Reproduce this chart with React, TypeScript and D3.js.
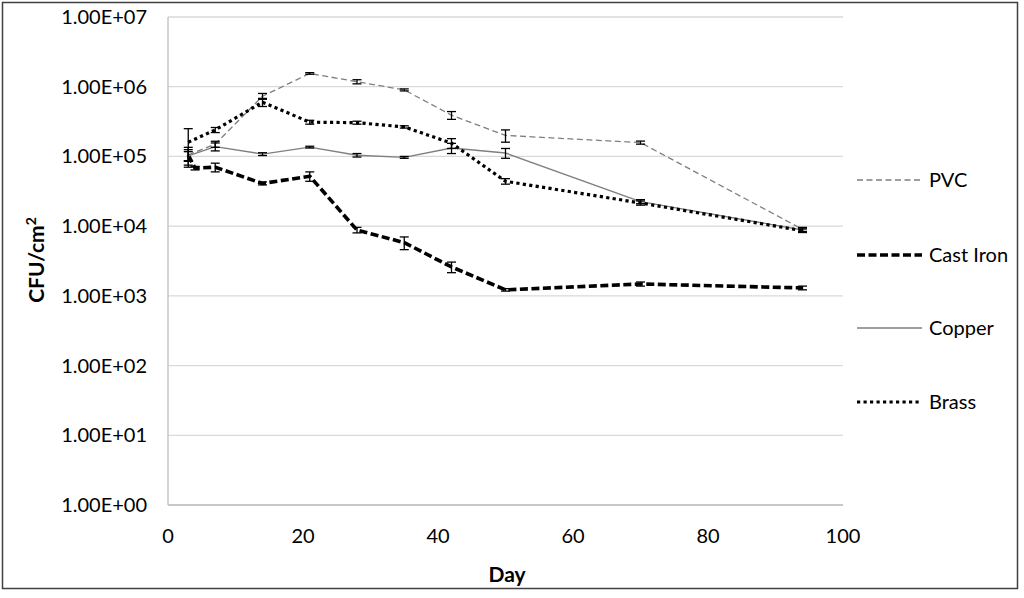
import * as d3 from 'd3';

const DAYS = [3, 7, 14, 21, 28, 35, 42, 50, 70, 94];
const IRON_DAYS = [3, 4, 7, 14, 21, 28, 35, 42, 50, 70, 94];

const PVC = [1.05e5, 1.5e5, 7.3e5, 1.55e6, 1.18e6, 9.0e5, 3.9e5, 2.0e5, 1.58e5, 9.0e3];
const PVC_ERR = [2e4, 1.5e4, 7e4, 4e4, 8e4, 3e4, 5e4, 4e4, 8e3, 6e2];

const IRON = [1.05e5, 6.8e4, 7.0e4, 4.1e4, 5.2e4, 8.8e3, 5.8e3, 2.6e3, 1.22e3, 1.48e3, 1.3e3];
const IRON_ERR = [3e4, 4e3, 1e4, 2e3, 8e3, 8e2, 1.2e3, 4.5e2, 5e1, 1e2, 8e1];

const COPPER = [1.02e5, 1.38e5, 1.08e5, 1.36e5, 1.04e5, 9.7e4, 1.32e5, 1.12e5, 2.25e4, 8.8e3];
const COPPER_ERR = [1.5e4, 1.8e4, 5e3, 4e3, 6e3, 3e3, 2.2e4, 1.8e4, 1.5e3, 6e2];

const BRASS = [1.6e5, 2.4e5, 6.0e5, 3.1e5, 3.05e5, 2.65e5, 1.55e5, 4.4e4, 2.15e4, 8.6e3];
const BRASS_ERR = [9e4, 2e4, 8e4, 2e4, 1.5e4, 1e4, 2.5e4, 4e3, 1.5e3, 5e2];

const Y_TICKS = [1, 10, 100, 1e3, 1e4, 1e5, 1e6, 1e7];
const Y_LABELS = ['1.00E+00', '1.00E+01', '1.00E+02', '1.00E+03', '1.00E+04', '1.00E+05', '1.00E+06', '1.00E+07'];
const X_TICKS = [0, 20, 40, 60, 80, 100];

const FONT = "Lato, 'Open Sans', sans-serif";

const series = [
  { name: 'PVC', days: DAYS, values: PVC, err: PVC_ERR, stroke: '#7f7f7f', width: 1.3, dash: '6,3.5' },
  { name: 'Cast Iron', days: IRON_DAYS, values: IRON, err: IRON_ERR, stroke: '#000', width: 3.6, dash: '8,3.5' },
  { name: 'Copper', days: DAYS, values: COPPER, err: COPPER_ERR, stroke: '#7f7f7f', width: 1.4, dash: undefined },
  { name: 'Brass', days: DAYS, values: BRASS, err: BRASS_ERR, stroke: '#000', width: 3.2, dash: '3.2,3.3' },
];

export default function App() {
  const x = d3.scaleLinear().domain([0, 100]).range([168, 843]);
  const y = d3.scaleLog().domain([1, 1e7]).range([505, 17]);

  const line = d3
    .line<[number, number]>()
    .x((d) => x(d[0]))
    .y((d) => y(d[1]));

  return (
    <svg
      width={1024}
      height={598}
      style={{ position: 'absolute', left: 0, top: 0, background: '#fff' }}
      fontFamily={FONT}
    >
      <rect x={0} y={0} width={1024} height={598} fill="#fff" />
      <rect x={2.5} y={2.5} width={1015} height={586} fill="none" stroke="#404040" strokeWidth={1.5} />

      {/* gridlines */}
      {Y_TICKS.map((t) => (
        <line key={t} x1={x(0)} x2={x(100)} y1={y(t)} y2={y(t)} stroke="#d9d9d9" strokeWidth={1.3} />
      ))}
      <line x1={x(0)} x2={x(0)} y1={y(1e7)} y2={y(1)} stroke="#bfbfbf" strokeWidth={1.3} />
      <line x1={x(0)} x2={x(100)} y1={y(1)} y2={y(1)} stroke="#bfbfbf" strokeWidth={1.3} />

      {/* axis labels */}
      {Y_TICKS.map((t, i) => (
        <text key={t} x={147} y={y(t)} dy="0.35em" textAnchor="end" fontSize={20} fill="#000">
          {Y_LABELS[i]}
        </text>
      ))}
      {X_TICKS.map((t) => (
        <text key={t} x={x(t)} y={536} dy="0.35em" textAnchor="middle" fontSize={20} fill="#000">
          {t}
        </text>
      ))}

      <text x={507} y={575} dy="0.35em" textAnchor="middle" fontSize={21} fontWeight="bold">
        Day
      </text>
      <text
        transform="translate(37,260) rotate(-90)"
        textAnchor="middle"
        dy="0.35em"
        fontSize={21}
        fontWeight="bold"
      >
        CFU/cm
        <tspan fontSize={14} dy="-8">2</tspan>
      </text>

      {/* series lines */}
      {series.map((s) => (
        <path
          key={s.name}
          d={line(s.days.map((d, i) => [d, s.values[i]] as [number, number])) ?? ''}
          fill="none"
          stroke={s.stroke}
          strokeWidth={s.width}
          strokeDasharray={s.dash}
          strokeLinejoin="round"
        />
      ))}

      {/* error bars */}
      {series.map((s) =>
        s.days.map((d, i) => {
          const v = s.values[i];
          const e = s.err[i];
          const cx = x(d);
          const top = y(v + e);
          const bot = y(Math.max(v - e, 1));
          return (
            <g key={s.name + d} stroke="#000" strokeWidth={1.3}>
              <line x1={cx} x2={cx} y1={top} y2={bot} />
              <line x1={cx - 4.5} x2={cx + 4.5} y1={top} y2={top} />
              <line x1={cx - 4.5} x2={cx + 4.5} y1={bot} y2={bot} />
            </g>
          );
        }),
      )}

      {/* legend */}
      {series.map((s, i) => {
        const ly = [180, 255, 328, 402][i];
        return (
          <g key={s.name}>
            <line
              x1={857}
              x2={922}
              y1={ly}
              y2={ly}
              stroke={s.stroke}
              strokeWidth={s.width}
              strokeDasharray={s.dash}
            />
            <text x={929} y={ly} dy="0.35em" fontSize={20} fill="#000">
              {s.name}
            </text>
          </g>
        );
      })}
    </svg>
  );
}
